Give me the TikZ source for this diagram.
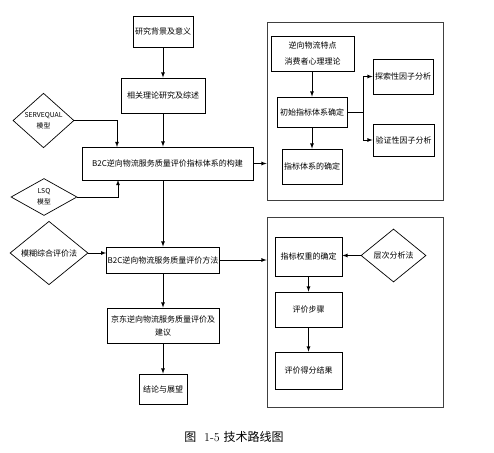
\documentclass[tikz,border=0pt]{standalone}
\usepackage{fontspec}
\newfontfamily\cjk{Noto Sans CJK SC}
\usetikzlibrary{shapes.geometric}

\begin{document}
\begin{tikzpicture}[x=1pt, y=-1pt, >=latex,
    font=\cjk\fontsize{8}{9}\selectfont,
    box/.style={draw, line width=0.8pt, inner sep=1pt, align=center},
    judge/.style={draw, diamond, line width=0.7pt, inner sep=0pt, align=center},
    groupbox/.style={draw=black!75, line width=0.8pt},
    link/.style={->, line width=0.8pt}]
    \useasboundingbox (0,0) rectangle (494,452);

    % main column
    \node[box, minimum width=60pt, minimum height=31pt] (bg) at (163,31.5) {研究背景及意义};
    \node[box, minimum width=84pt, minimum height=35pt] (xg) at (163,95.5) {相关理论研究及综述};
    \node[box, minimum width=171pt, minimum height=33pt] (gj) at (167.5,163.5) {B2C逆向物流服务质量评价指标体系的构建};
    \node[box, minimum width=112pt, minimum height=26pt] (ff) at (163,260) {B2C逆向物流服务质量评价方法};
    \node[box, minimum width=112pt, minimum height=35pt, font=\cjk\fontsize{8}{13}\selectfont] (jd) at (163,325.5) {京东逆向物流服务质量评价及\\建议};
    \node[box, minimum width=48pt, minimum height=30pt] (jl) at (163,389) {结论与展望};

    % models on the left
    \node[judge, minimum width=61pt, minimum height=53pt, font=\cjk\fontsize{6.8}{11}\selectfont] (servq) at (43.5,120.5) {SERVEQUAL\\模型};
    \node[judge, minimum width=66pt, minimum height=37pt, font=\cjk\fontsize{6.8}{11}\selectfont] (lsq) at (44,197) {LSQ\\模型};
    \node[judge, minimum width=78pt, minimum height=40pt] (mh) at (49,253) {模糊综合评价法};
    \coordinate (gjtop) at (117,147);
    \coordinate (gjbot) at (118,180);

    \draw[link] (bg) -- (xg);
    \draw[link] (xg.south) -- (xg.south |- gj.north);
    \draw[link] (gj.south -| ff.north) -- (ff.north);
    \draw[link] (ff) -- (jd);
    \draw[link] (jd) -- (jl);
    \draw[link] (servq.east) -| (gjtop);
    \draw[link] (lsq.east) -| (gjbot);
    \draw[link] (mh.east) -- (mh.east -| ff.west);

    % index system
    \node[groupbox, minimum width=176pt, minimum height=178pt] (c1) at (355,111) {};
    \node[box, minimum width=83pt, minimum height=35pt, font=\cjk\fontsize{8}{16}\selectfont] (td) at (312.5,53.5) {逆向物流特点\\消费者心理理论};
    \node[box, minimum width=70pt, minimum height=30pt] (cs) at (312,112) {初始指标体系确定};
    \node[box, minimum width=60pt, minimum height=35pt] (zb) at (312,166.5) {指标体系的确定};
    \node[box, minimum width=60pt, minimum height=35pt] (ts) at (403,76.5) {探索性因子分析};
    \node[box, minimum width=61pt, minimum height=32pt] (yz) at (403.5,140) {验证性因子分析};
    \coordinate (fork) at (363,112);

    \draw[link] (td.south -| cs.north) -- (cs.north);
    \draw[link] (cs.south) -- (cs.south |- zb.north);
    \draw[line width=0.8pt] (cs.east) -- (fork);
    \draw[link] (fork) |- (ts.west);
    \draw[link] (fork) |- (yz.west);
    \draw[link] (gj.east) -- (gj.east -| c1.west);

    % evaluation method
    \node[groupbox, minimum width=176pt, minimum height=190pt] (c2) at (355,312) {};
    \node[box, minimum width=67pt, minimum height=39pt] (qz) at (308.5,256.5) {指标权重的确定};
    \node[judge, minimum width=65pt, minimum height=53pt] (cc) at (393.5,255.5) {层次分析法};
    \node[box, minimum width=67pt, minimum height=35pt] (bz) at (308.5,309.5) {评价步骤};
    \node[box, minimum width=67pt, minimum height=37pt] (jg) at (308.5,370.5) {评价得分结果};

    \draw[link] (cc.west) -- (cc.west -| qz.east);
    \draw[link] (qz) -- (bz);
    \draw[link] (bz) -- (jg);
    \draw[link] (ff.east) -- (ff.east -| c2.west);

    \node[font=\fontsize{12}{14}\selectfont] (cap) at (234,437) {{\cjk 图}\ \ 1-5\ {\cjk 技术路线图}};
\end{tikzpicture}
\end{document}
